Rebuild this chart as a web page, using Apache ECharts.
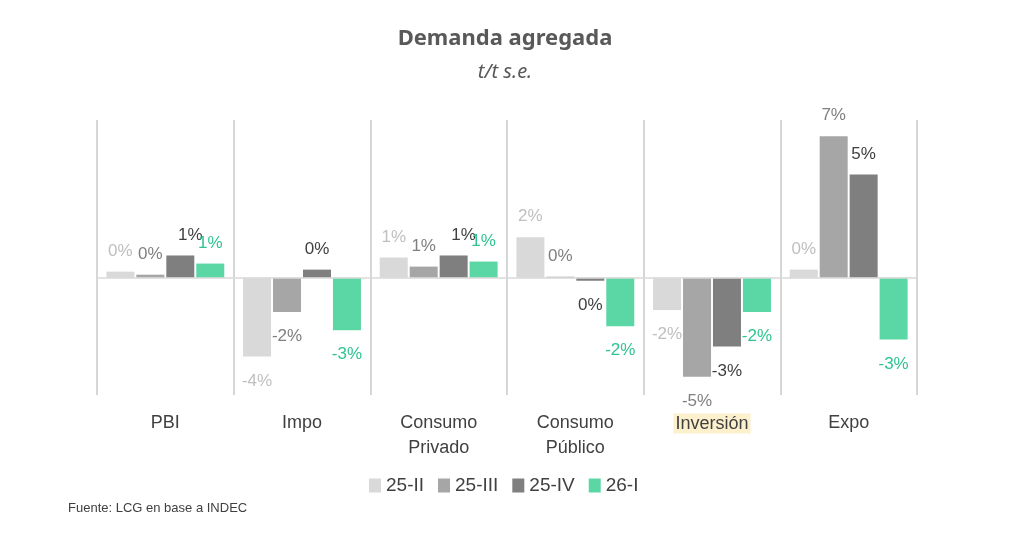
<!DOCTYPE html>
<html>
<head>
<meta charset="utf-8">
<script src="https://cdn.jsdelivr.net/npm/echarts@6/dist/echarts.min.js"></script>
<style>
  html, body { margin: 0; padding: 0; background: #fff; }
  #chart { width: 1020px; height: 540px; }
</style>
</head>
<body>
<div id="chart"></div>
<script>
// categorias y series (t/t s.e., %)
var categorias = ['PBI', 'Impo', 'Consumo\nPrivado', 'Consumo\nPúblico', 'Inversión', 'Expo'];
var series25II  = [0.3, -3.9, 1.0, 2.0, -1.6, 0.4];
var series25III = [0.15, -1.7, 0.55, 0.05, -4.9, 7.0];
var series25IV  = [1.1, 0.4, 1.1, -0.15, -3.4, 5.1];
var series26I   = [0.7, -2.6, 0.8, -2.4, -1.7, -3.05];
var nombres = ['25-II', '25-III', '25-IV', '26-I'];

var colores = ['#d9d9d9', '#a6a6a6', '#7f7f7f', '#5bd6a5'];
var coloresLabel = ['#bfbfbf', '#7f7f7f', '#404040', '#2fc48f'];
var fuente = 'Liberation Sans, Arial, sans-serif';

var chart = echarts.init(document.getElementById('chart'));

// arma cada barra con la etiqueta arriba o abajo segun el signo
function armarSerie(nombre, valores, idx) {
  return {
    name: nombre,
    type: 'bar',
    barWidth: 28,
    barGap: '7%',
    itemStyle: { color: colores[idx] },
    label: {
      show: true,
      color: coloresLabel[idx],
      fontSize: 17,
      fontFamily: fuente,
      formatter: function (p) { return Math.round(p.value) + '%'; }
    },
    data: valores.map(function (v, i) {
      var lab = v >= 0 ? { position: 'top', distance: 12 } : { position: 'bottom', distance: 16 };
      // en el original las etiquetas de 25-IV de PBI y Consumo Privado estan corridas
      if (idx === 2 && (i === 0 || i === 2)) lab.offset = [10, 0];
      return { value: v, label: lab };
    })
  };
}

var lista = [
  armarSerie(nombres[0], series25II, 0),
  armarSerie(nombres[1], series25III, 1),
  armarSerie(nombres[2], series25IV, 2),
  armarSerie(nombres[3], series26I, 3)
];
// linea del cero
lista[0].markLine = {
  silent: true,
  symbol: 'none',
  label: { show: false },
  lineStyle: { color: '#d9d9d9', width: 1.5, type: 'solid' },
  data: [{ yAxis: 0 }]
};

var option = {
  animation: false,
  backgroundColor: '#fff',
  title: [
    {
      text: 'Demanda agregada',
      left: 500, top: 23, textAlign: 'center',
      textStyle: { fontSize: 22, fontWeight: 'bold', color: '#595959', fontFamily: 'Noto Sans, sans-serif' }
    },
    {
      text: 't/t s.e.',
      left: 500, top: 57, textAlign: 'center',
      textStyle: { fontSize: 20, fontWeight: 'normal', fontStyle: 'italic', color: '#595959', fontFamily: 'Noto Sans, sans-serif' }
    },
    {
      text: 'Fuente: LCG en base a INDEC',
      left: 63, top: 497,
      textStyle: { fontSize: 13, fontWeight: 'normal', color: '#404040', fontFamily: fuente }
    }
  ],
  legend: {
    data: nombres,
    left: 364,
    top: 471,
    icon: 'rect',
    itemWidth: 12,
    itemHeight: 14,
    itemGap: 14,
    textStyle: { fontSize: 19, color: '#404040', fontFamily: fuente }
  },
  grid: { left: 97, right: 103, top: 120, bottom: 145 },
  xAxis: {
    type: 'category',
    data: categorias,
    axisLine: { show: false },
    axisTick: { show: false },
    splitLine: { show: true, lineStyle: { color: '#c8c8c8', width: 1.5 } },
    axisLabel: {
      margin: 16,
      interval: 0,
      lineHeight: 25,
      fontSize: 18,
      color: '#404040',
      fontFamily: fuente,
      formatter: function (v) {
        return v === 'Inversión' ? '{hl|' + v + '}' : v;
      },
      rich: {
        hl: { backgroundColor: '#fdf0cc', fontSize: 18, color: '#404040', fontFamily: fuente, padding: [2, 2, 0, 2] }
      }
    }
  },
  yAxis: {
    type: 'value',
    min: -5.8,
    max: 7.8,
    show: false,
    splitLine: { show: false }
  },
  series: lista
};

chart.setOption(option);
</script>
</body>
</html>
